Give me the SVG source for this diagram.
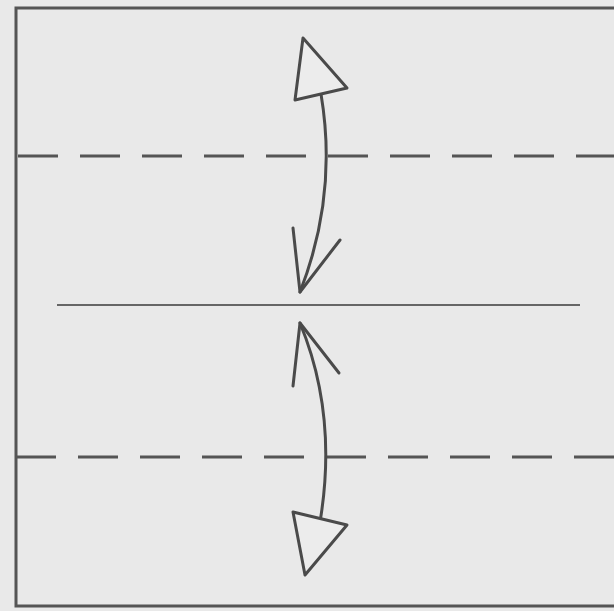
<svg xmlns="http://www.w3.org/2000/svg" width="614" height="611" viewBox="0 0 614 611">
<style>
.frame{fill:none;stroke:#555;stroke-width:3}
.dash{fill:none;stroke:#555;stroke-width:3;stroke-dasharray:40 22}
.valley{fill:none;stroke:#666;stroke-width:2}
.arr{fill:none;stroke:#4a4a4a;stroke-width:3;stroke-linejoin:round;stroke-linecap:round}
.head{fill:#ececec;stroke:#4a4a4a;stroke-width:3;stroke-linejoin:round}
</style>
<rect width="614" height="611" fill="#e9e9e9"/>
<g id="paper">
<path class="frame" d="M614,8 H16 V606 H614"/>
</g>
<g id="folds">
<line class="dash" x1="18" y1="156" x2="614" y2="156"/>
<line class="dash" x1="16" y1="457" x2="614" y2="457"/>
<line class="valley" x1="57" y1="305" x2="580" y2="305"/>
</g>
<g id="connectors">
<g id="arrow-up">
<path class="arr" d="M300,292 Q338,195 321,94"/>
<path class="arr" d="M293,228 L300,292 L340,240"/>
<polygon class="head" points="303,38 347,88 295,100"/>
</g>
<g id="arrow-down">
<path class="arr" d="M300,323 Q338,415 320,522"/>
<path class="arr" d="M293,386 L300,323 L339,373"/>
<polygon class="head" points="293,512 347,525 305,575"/>
</g>
</g>
</svg>
